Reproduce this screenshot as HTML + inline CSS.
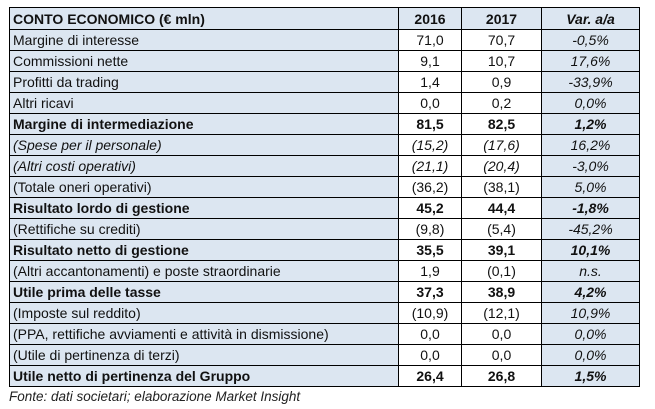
<!DOCTYPE html>
<html><head><meta charset="utf-8"><style>
body{margin:0;background:#fff;width:655px;height:409px;overflow:hidden;font-family:"Liberation Sans",sans-serif;}
table{position:absolute;left:9px;top:7px;border-collapse:collapse;font-size:14px;color:#111;}
td{border:1px solid #000;height:20px;padding:0 0 0 3px;white-space:nowrap;line-height:20px;}
tr.h td{height:21px;}
td.l{width:385px;background:#dce6f1;}
td.n{width:62px;text-align:center;padding:0;background:#fff;}
td.n2{width:79px;text-align:center;padding:0;background:#fff;}
td.v{width:97px;text-align:center;padding:0;background:#dce6f1;font-style:italic;}
tr.h td{background:#dce6f1;}
.b td{font-weight:bold;}
.i td{font-style:italic;}
.f{position:absolute;left:9px;top:389px;font-size:13.5px;font-style:italic;color:#222;}
</style></head><body>
<table>
<tr class="h b"><td class="l">CONTO ECONOMICO (€ mln)</td><td class="n" style="background:#dce6f1">2016</td><td class="n2" style="background:#dce6f1">2017</td><td class="v">Var. a/a</td></tr>
<tr><td class="l">Margine di interesse</td><td class="n">71,0</td><td class="n2">70,7</td><td class="v">-0,5%</td></tr>
<tr><td class="l">Commissioni nette</td><td class="n">9,1</td><td class="n2">10,7</td><td class="v">17,6%</td></tr>
<tr><td class="l">Profitti da trading</td><td class="n">1,4</td><td class="n2">0,9</td><td class="v">-33,9%</td></tr>
<tr><td class="l">Altri ricavi</td><td class="n">0,0</td><td class="n2">0,2</td><td class="v">0,0%</td></tr>
<tr class="b"><td class="l">Margine di intermediazione</td><td class="n">81,5</td><td class="n2">82,5</td><td class="v">1,2%</td></tr>
<tr class="i"><td class="l">(Spese per il personale)</td><td class="n">(15,2)</td><td class="n2">(17,6)</td><td class="v">16,2%</td></tr>
<tr class="i"><td class="l">(Altri costi operativi)</td><td class="n">(21,1)</td><td class="n2">(20,4)</td><td class="v">-3,0%</td></tr>
<tr><td class="l">(Totale oneri operativi)</td><td class="n">(36,2)</td><td class="n2">(38,1)</td><td class="v">5,0%</td></tr>
<tr class="b"><td class="l">Risultato lordo di gestione</td><td class="n">45,2</td><td class="n2">44,4</td><td class="v">-1,8%</td></tr>
<tr><td class="l">(Rettifiche su crediti)</td><td class="n">(9,8)</td><td class="n2">(5,4)</td><td class="v">-45,2%</td></tr>
<tr class="b"><td class="l">Risultato netto di gestione</td><td class="n">35,5</td><td class="n2">39,1</td><td class="v">10,1%</td></tr>
<tr><td class="l">(Altri accantonamenti) e poste straordinarie</td><td class="n">1,9</td><td class="n2">(0,1)</td><td class="v">n.s.</td></tr>
<tr class="b"><td class="l">Utile prima delle tasse</td><td class="n">37,3</td><td class="n2">38,9</td><td class="v">4,2%</td></tr>
<tr><td class="l">(Imposte sul reddito)</td><td class="n">(10,9)</td><td class="n2">(12,1)</td><td class="v">10,9%</td></tr>
<tr><td class="l">(PPA, rettifiche avviamenti e attività in dismissione)</td><td class="n">0,0</td><td class="n2">0,0</td><td class="v">0,0%</td></tr>
<tr><td class="l">(Utile di pertinenza di terzi)</td><td class="n">0,0</td><td class="n2">0,0</td><td class="v">0,0%</td></tr>
<tr class="b"><td class="l">Utile netto di pertinenza del Gruppo</td><td class="n">26,4</td><td class="n2">26,8</td><td class="v">1,5%</td></tr>
</table>
<div class="f">Fonte: dati societari; elaborazione Market Insight</div>
</body></html>
